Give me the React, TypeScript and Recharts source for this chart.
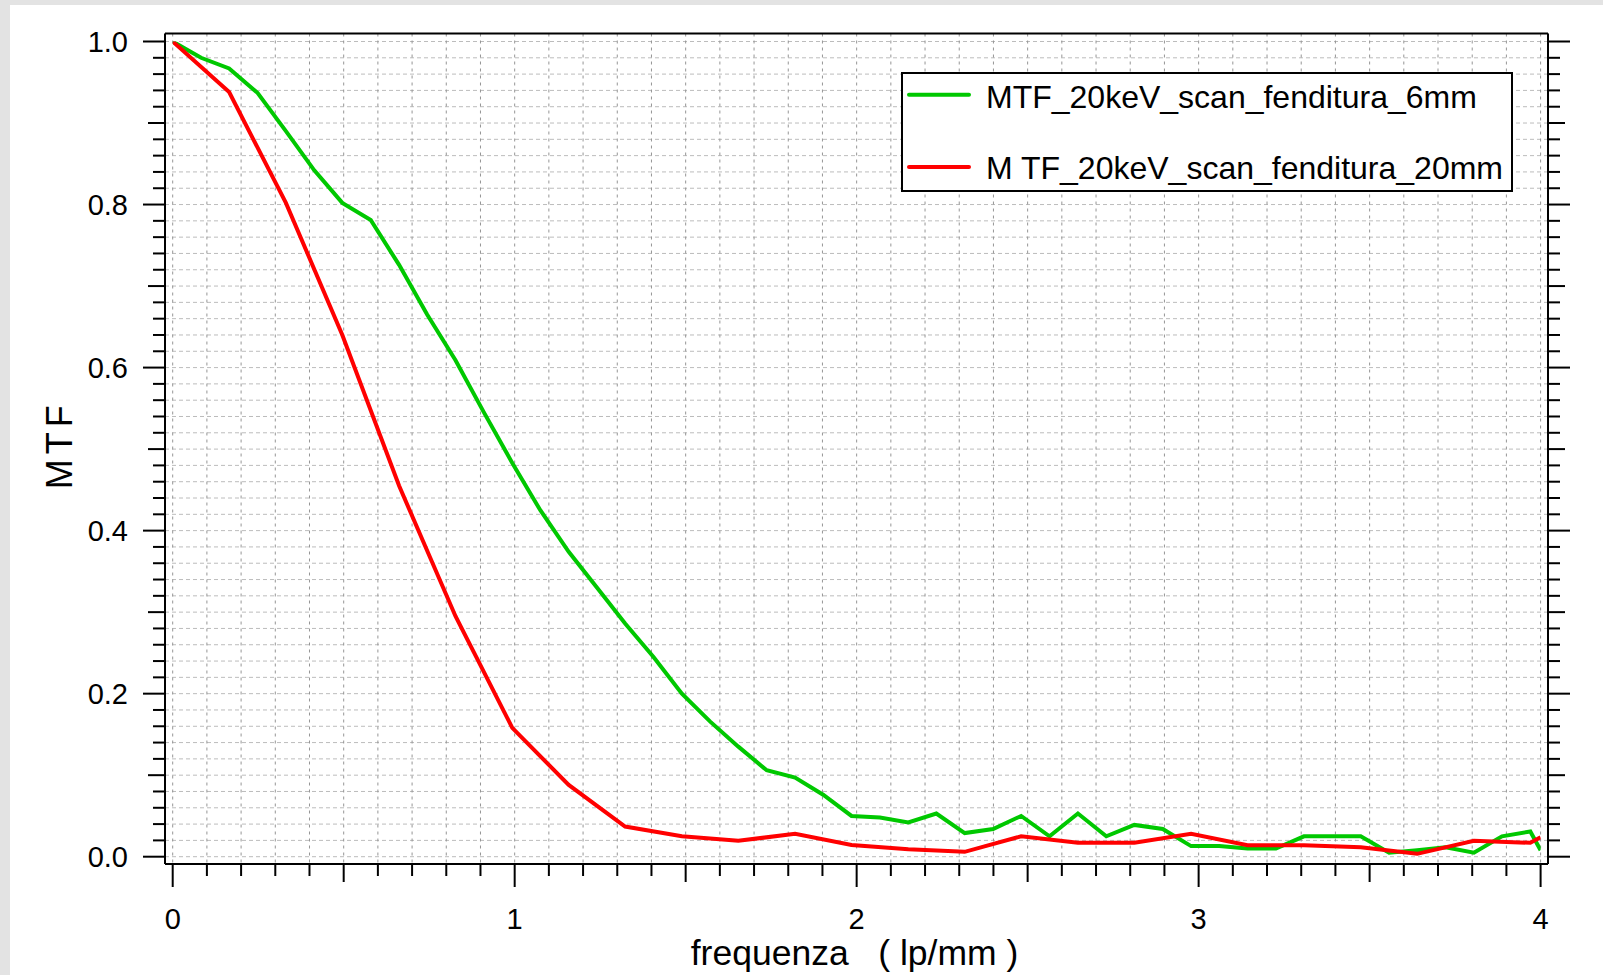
import React from 'react';
import { LineChart, Line, XAxis, YAxis, CartesianGrid, Legend } from 'recharts';

// ---- data ----
const FREQ_6MM = [
  0, 0.083, 0.165, 0.248, 0.331, 0.414, 0.496, 0.579, 0.662, 0.744,
  0.827, 0.910, 0.993, 1.075, 1.158, 1.241, 1.323, 1.406, 1.489, 1.571,
  1.654, 1.737, 1.820, 1.902, 1.985, 2.068, 2.151, 2.233, 2.316, 2.399,
  2.481, 2.564, 2.647, 2.730, 2.812, 2.895, 2.978, 3.060, 3.143, 3.226,
  3.308, 3.391, 3.474, 3.557, 3.639, 3.722, 3.805, 3.887, 3.970, 4.0,
];
const MTF_6MM = [
  1.0, 0.98, 0.967, 0.937, 0.89, 0.842, 0.802, 0.781, 0.726, 0.665,
  0.609, 0.545, 0.483, 0.425, 0.374, 0.33, 0.286, 0.245, 0.2, 0.166,
  0.135, 0.106, 0.097, 0.076, 0.05, 0.048, 0.042, 0.053, 0.029, 0.034,
  0.05, 0.025, 0.053, 0.025, 0.039, 0.034, 0.013, 0.013, 0.010, 0.010,
  0.025, 0.025, 0.025, 0.005, 0.008, 0.0115, 0.005, 0.025, 0.031, 0.008,
];
const FREQ_20MM = [
  0, 0.165, 0.331, 0.496, 0.662, 0.827, 0.993, 1.158, 1.323, 1.489,
  1.654, 1.820, 1.985, 2.151, 2.316, 2.481, 2.647, 2.812, 2.978, 3.143,
  3.308, 3.474, 3.639, 3.805, 3.970, 4.0,
];
const MTF_20MM = [
  1.0, 0.938, 0.802, 0.64, 0.455, 0.295, 0.158, 0.088, 0.037, 0.025,
  0.0196, 0.028, 0.0144, 0.009, 0.006, 0.025, 0.017, 0.017, 0.028, 0.014,
  0.014, 0.0115, 0.0035, 0.0196, 0.017, 0.024,
];
const NAME_6MM = 'MTF_20keV_scan_fenditura_6mm';
const NAME_20MM = 'M TF_20keV_scan_fenditura_20mm';
const LEGEND_ORDER = [NAME_6MM, NAME_20MM];
const X_TICK_LABELS = [0, 1, 2, 3, 4];
const Y_TICK_LABELS = [0, 0.2, 0.4, 0.6, 0.8, 1.0];
const X_TITLE = 'frequenza   ( lp/mm )';
const Y_TITLE = 'MTF';

const data6 = FREQ_6MM.map((f, i) => ({ f, v: MTF_6MM[i] }));
const data20 = FREQ_20MM.map((f, i) => ({ f, v: MTF_20MM[i] }));

// minor tick positions (axis decoration)
const X_MINOR: number[] = [];
for (let i = 0; i <= 40; i++) X_MINOR.push(i / 10);
const Y_MINOR: number[] = [];
for (let i = 0; i <= 50; i++) Y_MINOR.push(i / 50);

const FONT = '"Liberation Sans", Arial, sans-serif';
const GREEN = '#00c800';
const RED = '#ff0000';

const near = (a: number, b: number) => Math.abs(a - b) < 1e-6;
const isLabelX = (v: number) => X_TICK_LABELS.some((t) => near(t, v));
const isLabelY = (v: number) => Y_TICK_LABELS.some((t) => near(t, v));
const xLen = (v: number) => (isLabelX(v) ? 23 : near(v * 2, Math.round(v * 2)) ? 18 : 12);
const yLen = (v: number) => (isLabelY(v) ? 22 : near(v * 10, Math.round(v * 10)) ? 17 : 12);

const BottomTick = (p: any) => {
  const v = p.payload.value;
  return (
    <g>
      <line x1={p.x} y1={p.y} x2={p.x} y2={p.y + xLen(v)} stroke="#000" strokeWidth={2} />
      {isLabelX(v) && (
        <text x={p.x} y={p.y + 65} textAnchor="middle" fontSize={29} fontFamily={FONT} fill="#000">
          {String(Math.round(v))}
        </text>
      )}
    </g>
  );
};
const TopTick = (p: any) => {
  const v = p.payload.value;
  return <line x1={p.x} y1={p.y} x2={p.x} y2={p.y - xLen(v)} stroke="#000" strokeWidth={2} />;
};
const LeftTick = (p: any) => {
  const v = p.payload.value;
  return (
    <g>
      <line x1={p.x - yLen(v)} y1={p.y} x2={p.x} y2={p.y} stroke="#000" strokeWidth={2} />
      {isLabelY(v) && (
        <text x={p.x - 37} y={p.y + 10.5} textAnchor="end" fontSize={29} fontFamily={FONT} fill="#000">
          {v.toFixed(1)}
        </text>
      )}
    </g>
  );
};
const RightTick = (p: any) => {
  const v = p.payload.value;
  return <line x1={p.x} y1={p.y} x2={p.x + yLen(v)} y2={p.y} stroke="#000" strokeWidth={2} />;
};

const LegendBox = (props: any) => {
  const raw = props.payload || [];
  const payload = LEGEND_ORDER.map((n) => raw.find((e: any) => e.value === n)).filter(Boolean);
  return (
    <div
      style={{
        width: 612,
        height: 120,
        border: '2px solid #000',
        boxSizing: 'border-box',
        background: '#fff',
        position: 'relative',
      }}
    >
      <svg width={608} height={116} style={{ position: 'absolute', left: 0, top: 0 }}>
        {payload.map((e: any, i: number) => (
          <g key={i}>
            <line x1={6} x2={66} y1={20.7 + i * 72.3} y2={20.7 + i * 72.3} stroke={e.color} strokeWidth={4} strokeLinecap="round" />
            <text x={83} y={34 + i * 70.7} fontSize={32} fontFamily={FONT} fill="#000">
              {e.value}
            </text>
          </g>
        ))}
      </svg>
    </div>
  );
};

export default function App() {
  return (
    <div style={{ position: 'fixed', left: 0, top: 0, width: 1603, height: 975, background: '#e3e3e3', overflow: 'hidden' }}>
      <div style={{ position: 'absolute', left: 10, top: 5, width: 1593, height: 970, background: '#fff' }}>
        <LineChart width={1593} height={970} margin={{ top: 6.5, right: 15, bottom: 31, left: 55 }}>
          <CartesianGrid stroke="#bcbcbc" strokeDasharray="4 3" strokeWidth={1} vertical={false} />
          <CartesianGrid stroke="#959595" strokeDasharray="3 4" strokeWidth={1} horizontal={false} />
          <XAxis
            dataKey="f"
            type="number"
            domain={[0, 4]}
            allowDataOverflow
            ticks={X_MINOR}
            interval={0}
            padding={{ left: 7.7, right: 7.4 }}
            height={80}
            tickSize={0}
            tickMargin={0}
            tickLine={false}
            axisLine={{ stroke: '#000', strokeWidth: 2 }}
            tick={BottomTick}
            label={{
              content: (lp: any) => {
                const vb = lp.viewBox || { x: 155, y: 859, width: 1383 };
                return (
                  <text
                    x={vb.x + vb.width / 2 - 2}
                    y={vb.y + 100.7}
                    textAnchor="middle"
                    fontSize={35.5}
                    fontFamily={FONT}
                    fill="#000"
                    style={{ whiteSpace: 'pre' }}
                  >
                    {X_TITLE}
                  </text>
                );
              },
            }}
          />
          <XAxis
            xAxisId="top"
            orientation="top"
            type="number"
            domain={[0, 4]}
            allowDataOverflow
            ticks={X_MINOR}
            interval={0}
            padding={{ left: 7.7, right: 7.4 }}
            height={22}
            tickSize={0}
            tickMargin={0}
            tickLine={false}
            axisLine={{ stroke: '#000', strokeWidth: 2 }}
            tick={TopTick}
          />
          <YAxis
            type="number"
            domain={[0, 1]}
            allowDataOverflow
            ticks={Y_MINOR}
            interval={0}
            padding={{ top: 8, bottom: 7.3 }}
            width={100}
            tickSize={0}
            tickMargin={0}
            tickLine={false}
            axisLine={{ stroke: '#000', strokeWidth: 2 }}
            tick={LeftTick}
            label={{
              content: (lp: any) => {
                const vb = lp.viewBox || { x: 55, y: 28.5, height: 830 };
                const cx = vb.x + 7;
                const cy = vb.y + vb.height / 2 - 4;
                return (
                  <text
                    x={cx}
                    y={cy}
                    transform={`rotate(-90, ${cx}, ${cy})`}
                    textAnchor="middle"
                    fontSize={36}
                    letterSpacing={5}
                    fontFamily={FONT}
                    fill="#000"
                  >
                    {Y_TITLE}
                  </text>
                );
              },
            }}
          />
          <YAxis
            yAxisId="right"
            orientation="right"
            type="number"
            domain={[0, 1]}
            allowDataOverflow
            ticks={Y_MINOR}
            interval={0}
            padding={{ top: 8, bottom: 7.3 }}
            width={40}
            tickSize={0}
            tickMargin={0}
            tickLine={false}
            axisLine={{ stroke: '#000', strokeWidth: 2 }}
            tick={RightTick}
          />
          <Legend
            layout="horizontal"
            verticalAlign="middle"
            align="center"
            content={LegendBox}
            wrapperStyle={{ position: 'absolute', left: 891, top: 67.3, width: 612, height: 120 }}
          />
          <Line
            data={data6}
            dataKey="v"
            name={NAME_6MM}
            type="linear"
            stroke={GREEN}
            strokeWidth={4}
            dot={false}
            isAnimationActive={false}
          />
          <Line
            data={data20}
            dataKey="v"
            name={NAME_20MM}
            type="linear"
            stroke={RED}
            strokeWidth={4}
            dot={false}
            isAnimationActive={false}
          />
        </LineChart>
      </div>
    </div>
  );
}
